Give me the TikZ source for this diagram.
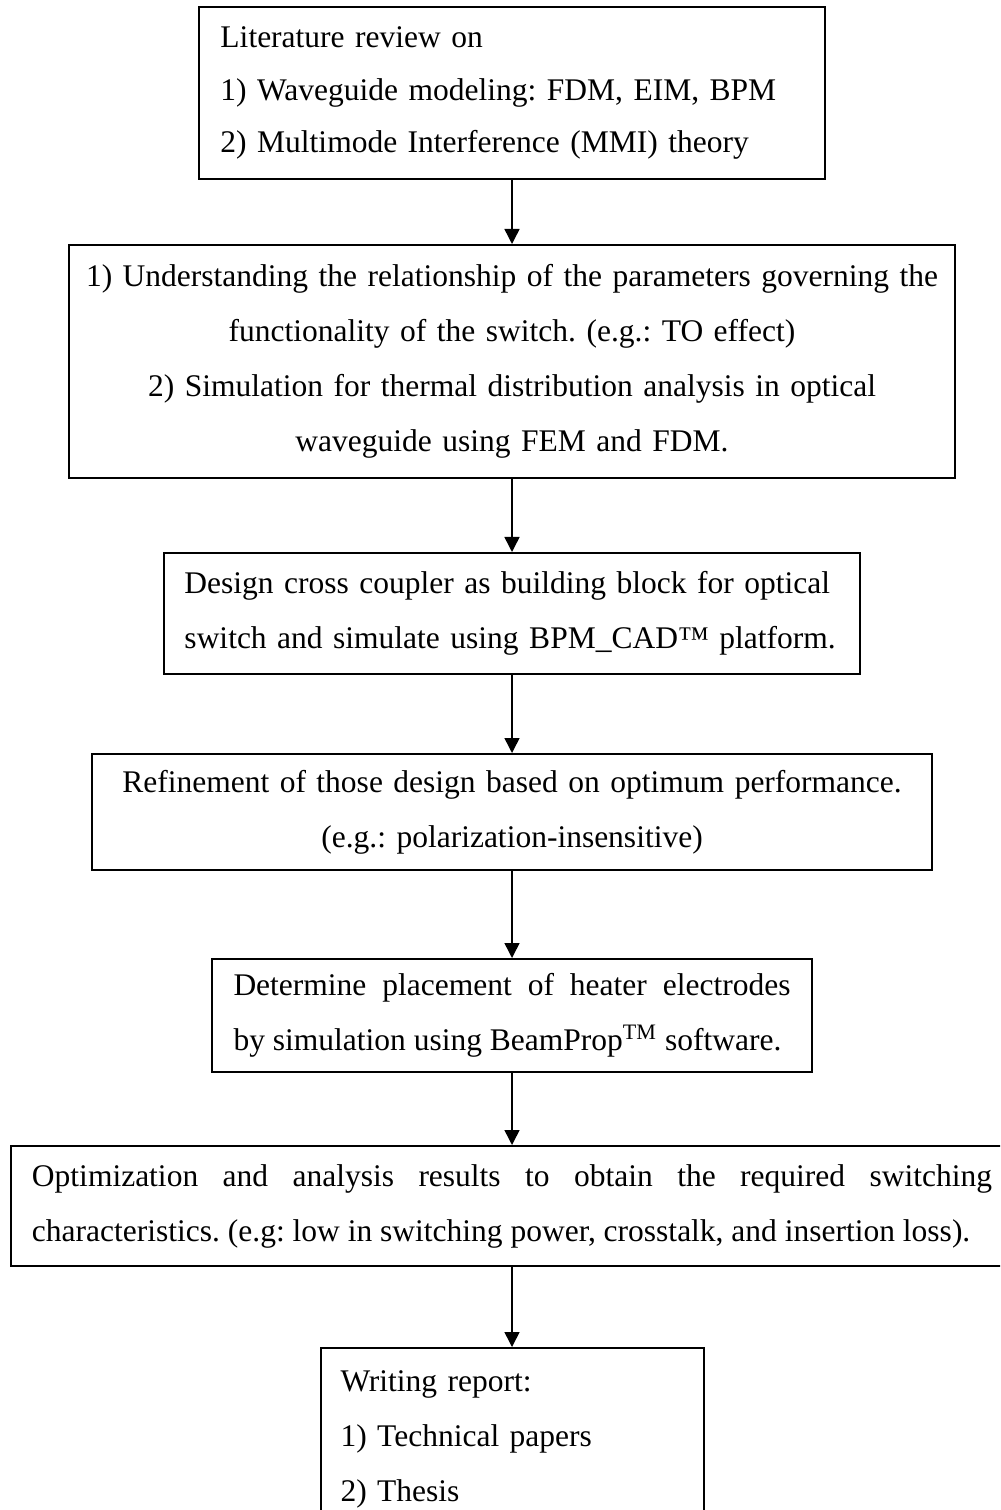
\documentclass[tikz,border=0pt]{standalone}
\usepackage{fontspec}
\setmainfont{Liberation Serif}
\frenchspacing
\usetikzlibrary{arrows.meta}
\tikzset{
  procbox/.style={draw, line width=0.8pt, inner ysep=0pt, inner xsep=8pt},
  arrow/.style={-{Triangle[length=6pt, width=6pt]}, line width=0.6pt}
}

\begin{document}
\begin{tikzpicture}[x=0.4pt, y=-0.4pt, font=\fontsize{12.6pt}{22pt}\selectfont]
  \path[use as bounding box] (0,0) rectangle (1000,1510);
  \clip (0,0) rectangle (1000,1510);

  \node[procbox, minimum width=250pt, minimum height=68.8pt, inner xsep=8.4pt, text width=233.2pt, align=left,
        font=\fontsize{12.6pt}{21pt}\selectfont] (review) at (512,93)
    {Literature review on\\ 1) Waveguide modeling: FDM, EIM, BPM\\ 2) Multimode Interference (MMI) theory};

  \node[procbox, minimum width=354.4pt, minimum height=93.2pt, inner xsep=2pt, text width=350.4pt, align=center] (theory) at (512,361.5)
    {1) Understanding the relationship of the parameters governing the\\ functionality of the switch. (e.g.: TO effect)\\
     2) Simulation for thermal distribution analysis in optical\\ waveguide using FEM and FDM.};

  \node[procbox, minimum width=278pt, minimum height=48.4pt, text width=262pt, align=left] (coupler) at (512,613.5)
    {Design cross coupler as building block for optical\\ switch and simulate using BPM\_CAD™ platform.};

  \node[procbox, minimum width=336pt, minimum height=46.4pt, inner xsep=2pt, text width=332pt, align=center] (refine) at (512,812)
    {Refinement of those design based on optimum performance.\\ (e.g.: polarization-insensitive)};

  \node[procbox, minimum width=239.6pt, minimum height=45.2pt, inner xsep=8.4pt, text width=222.8pt, align=justify] (heater) at (512,1015.5)
    {Determine placement of heater electrodes\linebreak by simulation using BeamProp\textsuperscript{TM} software.};

  \node[procbox, minimum width=400.8pt, minimum height=48pt, inner xsep=8.4pt, text width=384pt, align=justify] (optim) at (512,1206)
    {Optimization and analysis results to obtain the required switching\linebreak characteristics. (e.g: low in switching power, crosstalk, and insertion loss).};

  \node[procbox, minimum width=153.2pt, minimum height=72.8pt, text width=137.2pt, align=left] (report) at (512,1439)
    {Writing report:\\ 1) Technical papers\\ 2) Thesis};

  \draw[arrow] (review.south) -- (theory.north);
  \draw[arrow] (theory.south) -- (coupler.north);
  \draw[arrow] (coupler.south) -- (refine.north);
  \draw[arrow] (refine.south) -- (heater.north);
  \draw[arrow] (heater.south) -- (optim.north);
  \draw[arrow] (optim.south) -- (report.north);
\end{tikzpicture}
\end{document}
